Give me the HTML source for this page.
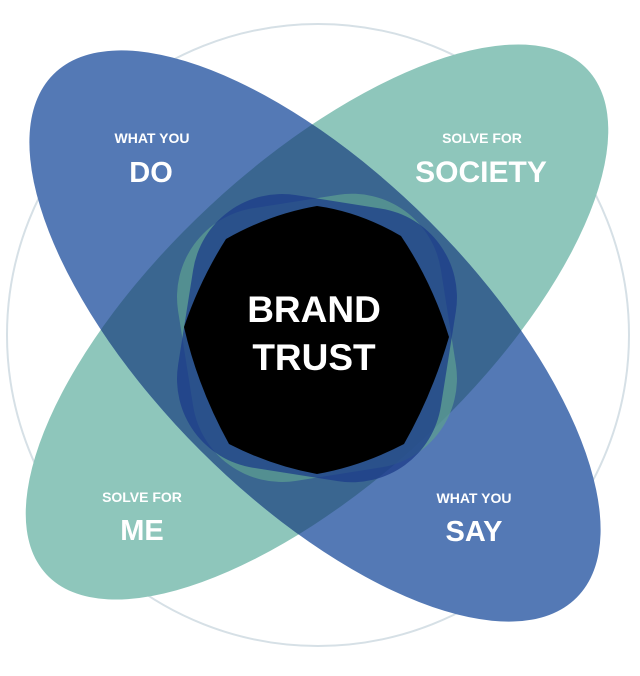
<!DOCTYPE html>
<html><head><style>html,body{margin:0;padding:0;background:#fff;overflow:hidden}svg{display:block}</style></head>
<body>
<svg width="640" height="676" viewBox="0 0 640 676" xmlns="http://www.w3.org/2000/svg" font-family="Liberation Sans, sans-serif" font-weight="bold">
<defs>
<clipPath id="cb"><ellipse cx="315" cy="336" rx="370" ry="162" transform="rotate(45 315 336)"/></clipPath>
</defs>
<circle cx="318" cy="335" r="311" fill="none" stroke="#d6e0e6" stroke-width="2"/>
<ellipse cx="317" cy="322" rx="370" ry="158" transform="rotate(-43 317 322)" fill="#8ec6bb"/>
<ellipse cx="315" cy="336" rx="370" ry="162" transform="rotate(45 315 336)" fill="#5479b5"/>
<g clip-path="url(#cb)"><ellipse cx="317" cy="322" rx="370" ry="158" transform="rotate(-43 317 322)" fill="#3a6690"/></g>
<rect x="184" y="200" width="266" height="276" rx="90" fill="#5c9e92" opacity="0.75" transform="rotate(-9 316 338)"/>
<rect x="184" y="200" width="266" height="276" rx="90" fill="#1c3c8a" opacity="0.75" transform="rotate(9 316 338)"/>
<path d="M317,206 Q360,212 401,236 Q432,282 449,337 Q432,395 404,444 Q362,466 317,474 Q272,466 229,444 Q198,388 184,327 Q200,280 226,239 Q270,214 317,206 Z" fill="#000"/>
<g fill="#fff" text-anchor="middle">
<text x="314" y="322" font-size="37">BRAND</text>
<text x="314" y="370" font-size="37">TRUST</text>
<text x="152" y="143" font-size="14">WHAT YOU</text>
<text x="151" y="182" font-size="29">DO</text>
<text x="482" y="143" font-size="14">SOLVE FOR</text>
<text x="481" y="182" font-size="30">SOCIETY</text>
<text x="142" y="502" font-size="14">SOLVE FOR</text>
<text x="142" y="540" font-size="29">ME</text>
<text x="474" y="503" font-size="14">WHAT YOU</text>
<text x="474" y="541" font-size="29">SAY</text>
</g>
</svg>
</body></html>
